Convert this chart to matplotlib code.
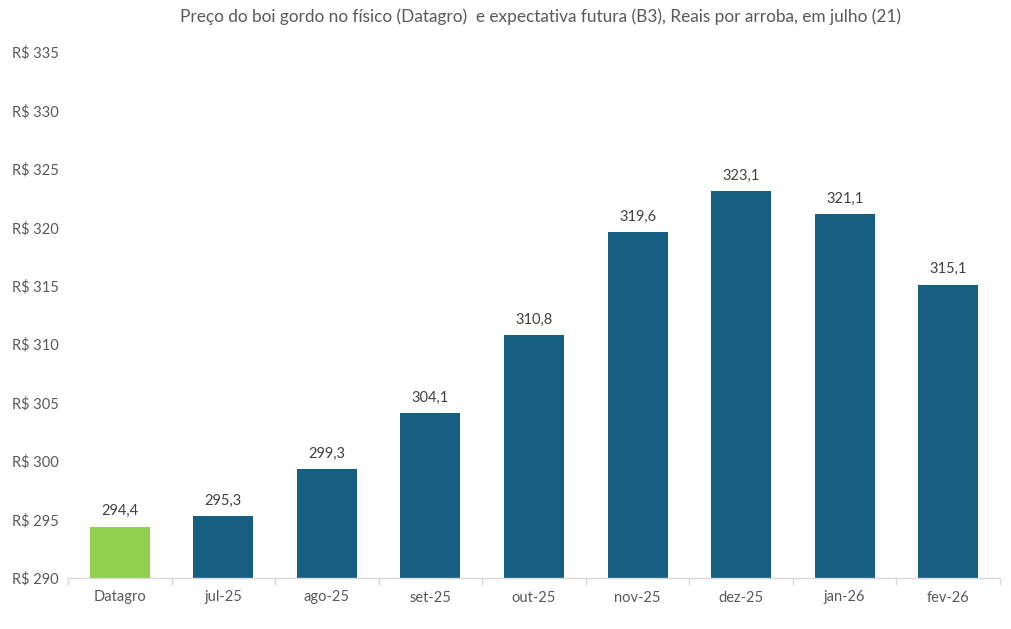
import matplotlib
matplotlib.use("Agg")
import matplotlib.pyplot as plt
import numpy as np

categories = ["Datagro", "jul-25", "ago-25", "set-25", "out-25", "nov-25", "dez-25", "jan-26", "fev-26"]
values = [294.4, 295.3, 299.3, 304.1, 310.8, 319.6, 323.1, 321.1, 315.1]
yticks = [290, 295, 300, 305, 310, 315, 320, 325, 330, 335]
title = "Preço do boi gordo no físico (Datagro)  e expectativa futura (B3), Reais por arroba, em julho (21)"

plt.rcParams['font.family'] = ['Lato', 'DejaVu Sans']
txt = "#595959"

fig = plt.figure(figsize=(10.11, 6.29), dpi=100)
ax = fig.add_axes([68/1011, 1-578/629, (1000-68)/1011, (578-52)/629])

colors = ["#92D050"] + ["#175F82"] * (len(values) - 1)
x = np.arange(len(categories))
bars = ax.bar(x, [v - 290 for v in values], bottom=290, width=0.58, color=colors, zorder=2)
for xi, v in zip(x, values):
    ax.annotate(f"{v:.1f}".replace(".", ","), (xi, v), xytext=(0, 6), textcoords="offset points",
                ha="center", va="bottom", fontsize=10.5, color="#404040")

ax.set_xlim(-0.5, len(categories) - 0.5)
ax.set_ylim(290, 335)
ax.set_yticks(yticks)
ax.set_yticklabels([f"R\\$ {t}" for t in yticks], fontsize=10.5, color=txt)
for lab in ax.get_yticklabels():
    lab.set_horizontalalignment("left")
ax.tick_params(axis="y", length=0, pad=40)

ax.set_xticks(x)
ax.set_xticklabels(categories, fontsize=10.5, color=txt)
ax.tick_params(axis="x", length=0, pad=9)
# category boundary ticks
ax.set_xticks(np.arange(-0.5, len(categories), 1.0), minor=True)
ax.tick_params(axis="x", which="minor", length=5, color="#D9D9D9", width=1)

for s in ["top", "right", "left"]:
    ax.spines[s].set_visible(False)
ax.spines["bottom"].set_color("#D9D9D9")
ax.spines["bottom"].set_linewidth(1)

fig.text(540/1011, 1-17/629, title, ha="center", va="center", fontsize=12.4, color=txt)

fig.savefig("out.png", dpi=100)
